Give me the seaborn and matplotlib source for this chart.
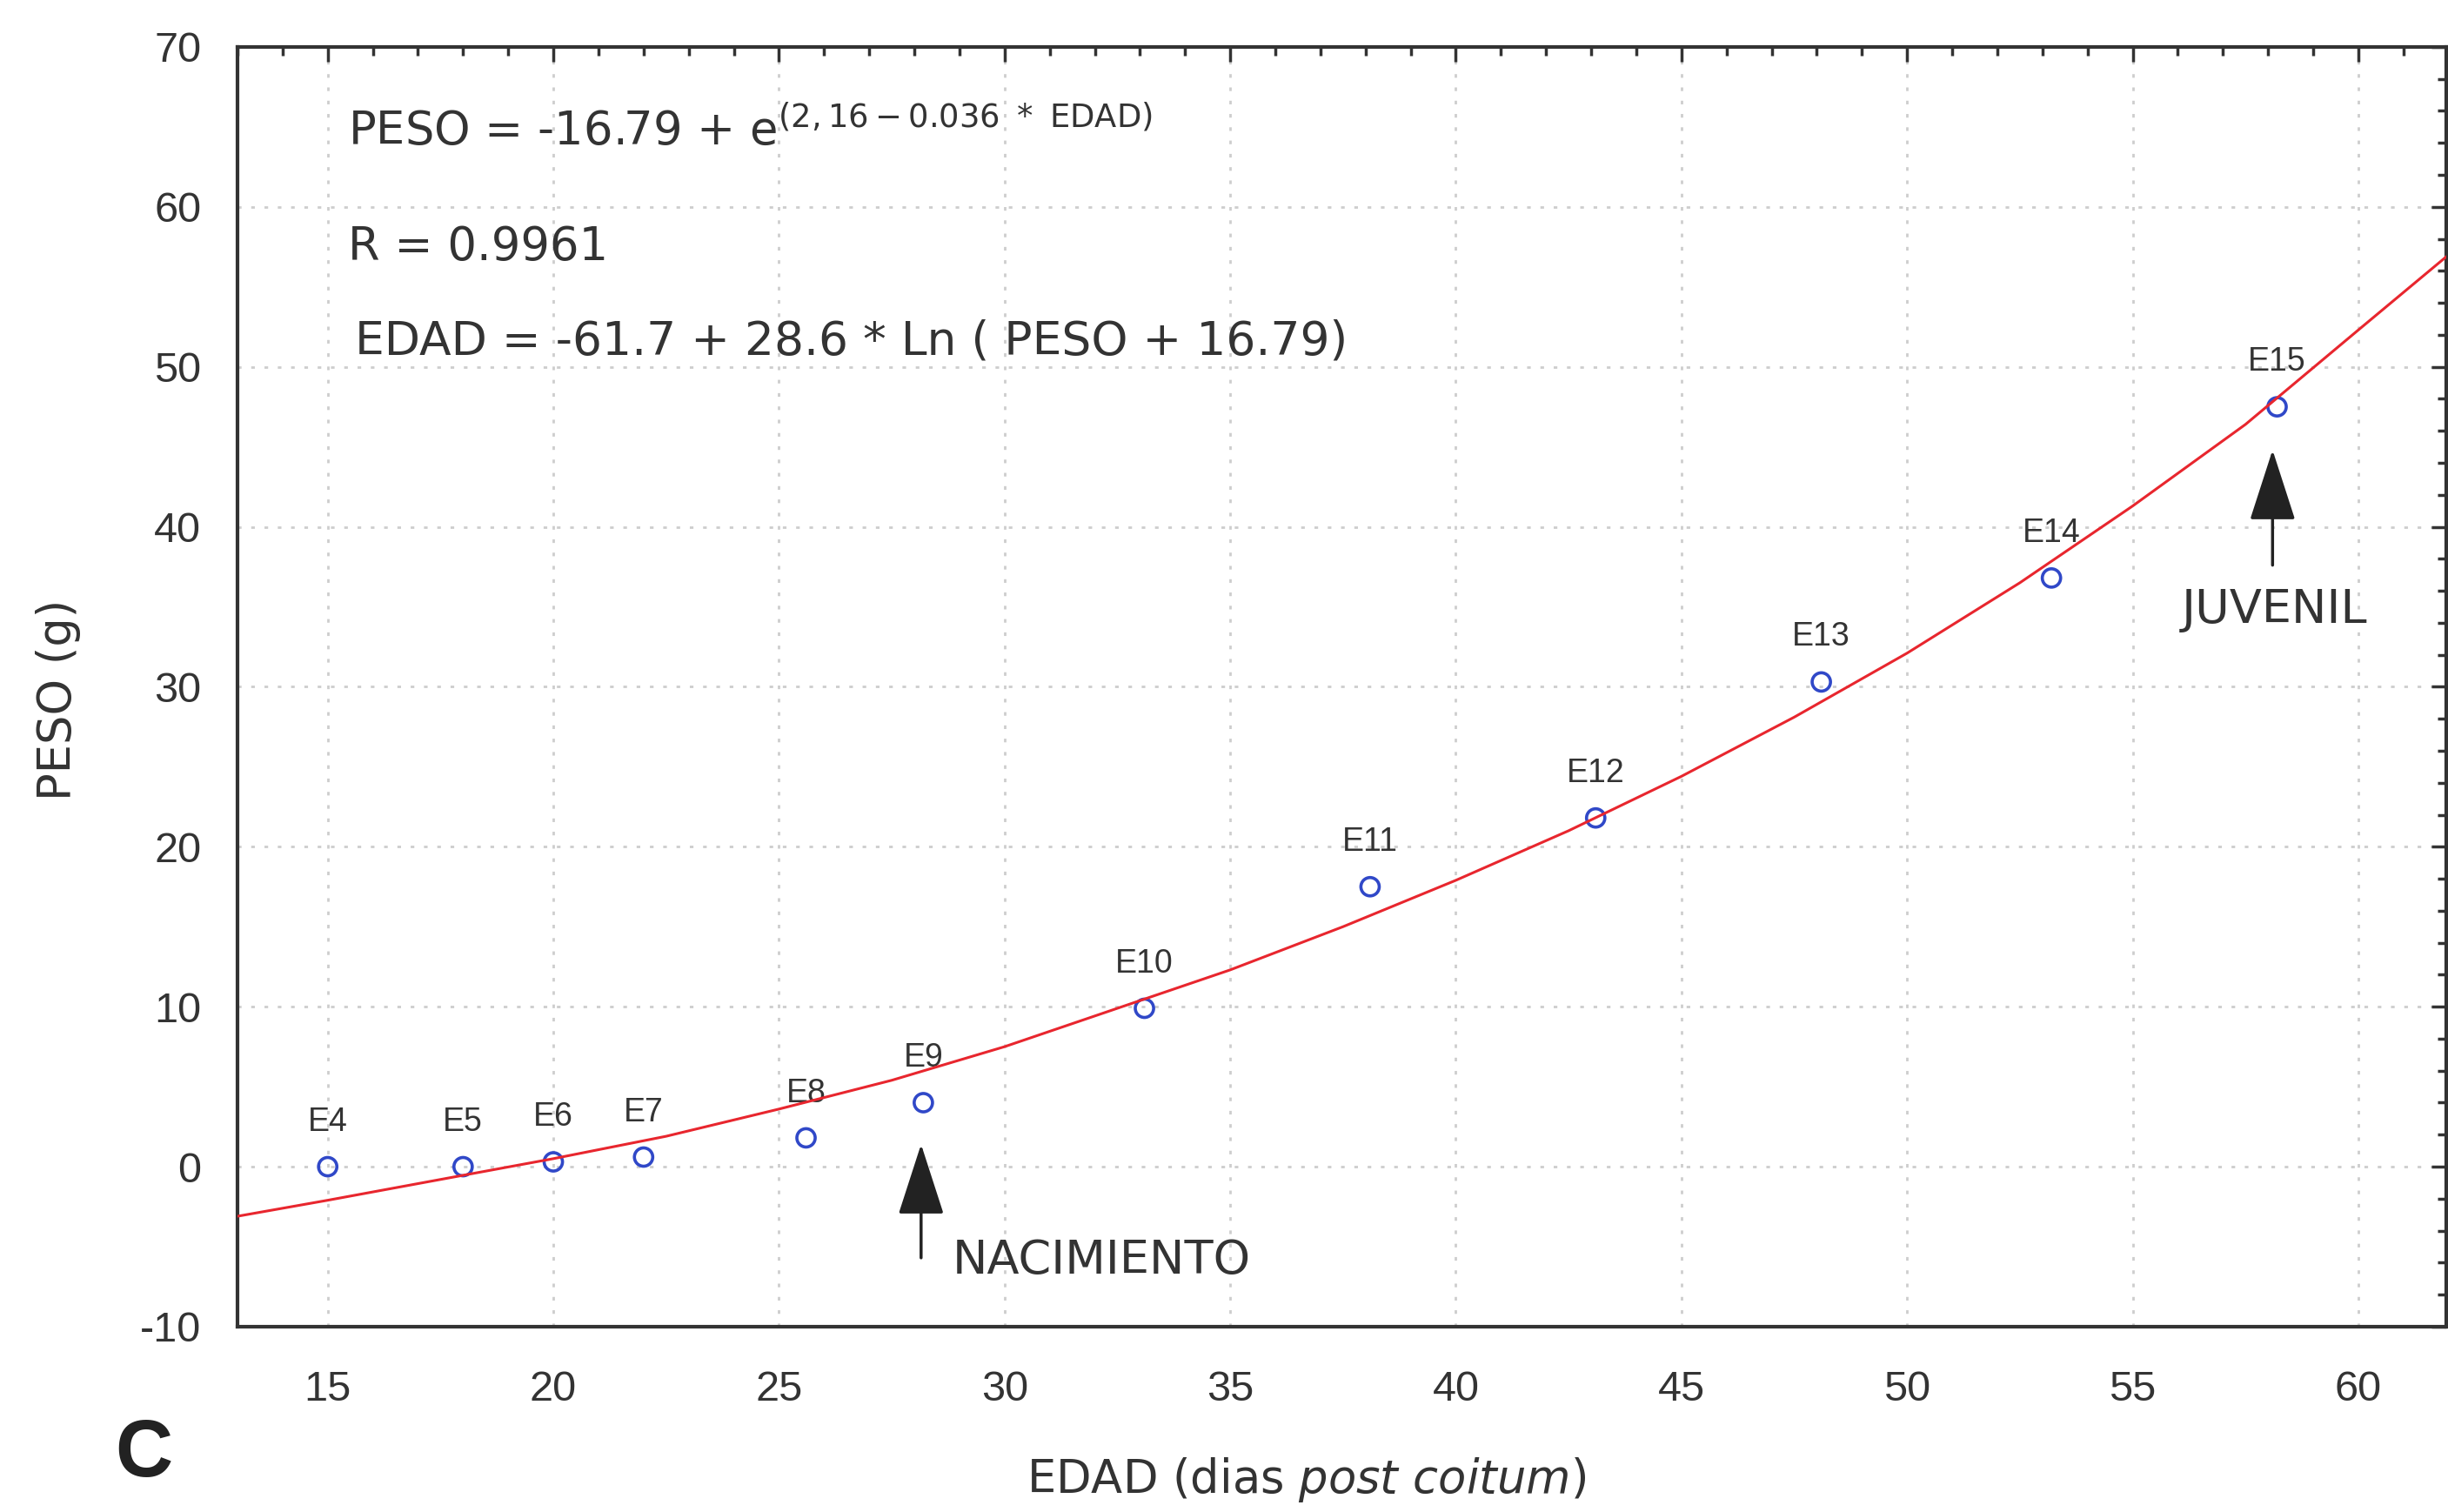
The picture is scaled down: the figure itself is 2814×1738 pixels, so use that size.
import numpy as np
import pandas as pd
import matplotlib
matplotlib.use("Agg")
import matplotlib.pyplot as plt
import seaborn as sns
from matplotlib.ticker import MultipleLocator

# ---- data ----
edad = [15.0, 18.0, 20.0, 22.0, 25.6, 28.2, 33.1, 38.1, 43.1, 48.1, 53.2, 58.2]
peso = [0.0, 0.0, 0.3, 0.6, 1.8, 4.0, 9.9, 17.5, 21.8, 30.3, 36.8, 47.5]
etiquetas = ["E4", "E5", "E6", "E7", "E8", "E9", "E10", "E11", "E12", "E13", "E14", "E15"]

# fitted curve
curva_edad = [13, 15, 17.5, 20, 22.5, 25, 27.5, 30, 32.5, 35, 37.5, 40, 42.5,
              45, 47.5, 50, 52.5, 55, 57.5, 60, 62]
curva_peso = [-3.1, -2.1, -0.8, 0.5, 1.9, 3.6, 5.4, 7.5, 9.9, 12.3, 15.0, 17.9, 21.0,
              24.4, 28.1, 32.1, 36.5, 41.3, 46.4, 52.3, 57.0]

x_ticks = [15, 20, 25, 30, 35, 40, 45, 50, 55, 60]
y_ticks = [-10, 0, 10, 20, 30, 40, 50, 60, 70]

sns.set_theme(style="white")
plt.rcParams.update({
    "font.family": ["Liberation Sans", "DejaVu Sans"],
    "mathtext.fontset": "custom",
    "mathtext.rm": "DejaVu Sans",
    "mathtext.it": "DejaVu Sans:italic",
    "mathtext.bf": "DejaVu Sans:bold",
    "axes.unicode_minus": False,
    "text.color": "#333333",
})
WIDE = ["DejaVu Sans"]
TXT = "#333333"

fig = plt.figure(figsize=(28.14, 17.38), dpi=100)
ax = fig.add_axes([0.0970, 0.1226, 0.9023, 0.8464])

df_pts = pd.DataFrame({"EDAD": edad, "PESO": peso})
df_cur = pd.DataFrame({"EDAD": curva_edad, "PESO": curva_peso})

sns.lineplot(data=df_cur, x="EDAD", y="PESO", ax=ax, color="#e8262e",
             linewidth=2.2, zorder=4)
sns.scatterplot(data=df_pts, x="EDAD", y="PESO", ax=ax, marker="o", s=230,
                facecolors="none", edgecolor="#3048c8", linewidth=2.6, zorder=3)

for xe, ye, lab in zip(edad, peso, etiquetas):
    ax.annotate(lab, (xe, ye), xytext=(0, 37), textcoords="offset points",
                ha="center", va="center", fontsize=27, color=TXT)

ax.set_xlim(13, 61.95)
ax.set_ylim(-10, 70)
ax.set_xticks(x_ticks)
ax.set_yticks(y_ticks)
ax.xaxis.set_minor_locator(MultipleLocator(1))
ax.yaxis.set_minor_locator(MultipleLocator(2))
ax.tick_params(which="both", direction="in", top=True, right=True,
               color="#333333", width=2.5)
ax.tick_params(which="major", length=12, labelsize=35, labelcolor=TXT)
ax.tick_params(which="minor", length=7)
ax.tick_params(axis="y", pad=30)
ax.tick_params(axis="x", pad=36)

for sp in ax.spines.values():
    sp.set_visible(True)
    sp.set_color("#333333")
    sp.set_linewidth(3)

ax.grid(True, which="major", linestyle=(0, (1.5, 4)), color="#cdcdcd", linewidth=2)
ax.set_axisbelow(True)

ax.set_xlabel(r"EDAD (dias $\mathit{post\ coitum}$)", fontsize=38, color=TXT,
              family=WIDE)
ax.set_ylabel("PESO (g)", fontsize=38, color=TXT, family=WIDE)
ax.xaxis.set_label_coords(0.484, -0.101)
ax.yaxis.set_label_coords(-0.071, 0.49)

# equations
ax.text(15.45, 64.8, r"PESO = -16.79 + e$^{\mathregular{(2,16 - 0.036\ *\ EDAD)}}$",
        fontsize=38, va="center", ha="left", color=TXT, family=WIDE)
ax.text(15.45, 57.5, "R = 0.9961", fontsize=38, va="center", ha="left", color=TXT,
        family=WIDE)
ax.text(15.6, 51.6, "EDAD = -61.7 + 28.6 * Ln ( PESO + 16.79)", fontsize=38.5,
        va="center", ha="left", color=TXT, family=WIDE)

# arrows
arrow_kw = dict(arrowstyle="-|>,head_length=1.3,head_width=0.42", color="#222222",
                lw=2.5, shrinkA=0, shrinkB=0, mutation_scale=40)
ax.annotate("", xy=(28.15, 1.4), xytext=(28.15, -5.7), arrowprops=arrow_kw)
ax.annotate("", xy=(58.1, 44.8), xytext=(58.1, 37.6), arrowprops=arrow_kw)
ax.text(28.85, -5.85, "NACIMIENTO", fontsize=39, va="center", ha="left", color=TXT,
        family=WIDE)
ax.text(58.15, 34.8, "JUVENIL", fontsize=39, va="center", ha="center", color=TXT,
        family=WIDE)

fig.text(0.0586, 0.0374, "C", fontsize=66, fontweight="bold", ha="center",
         va="center", color="#222222")

fig.savefig("out.png", dpi=100, facecolor="white")
